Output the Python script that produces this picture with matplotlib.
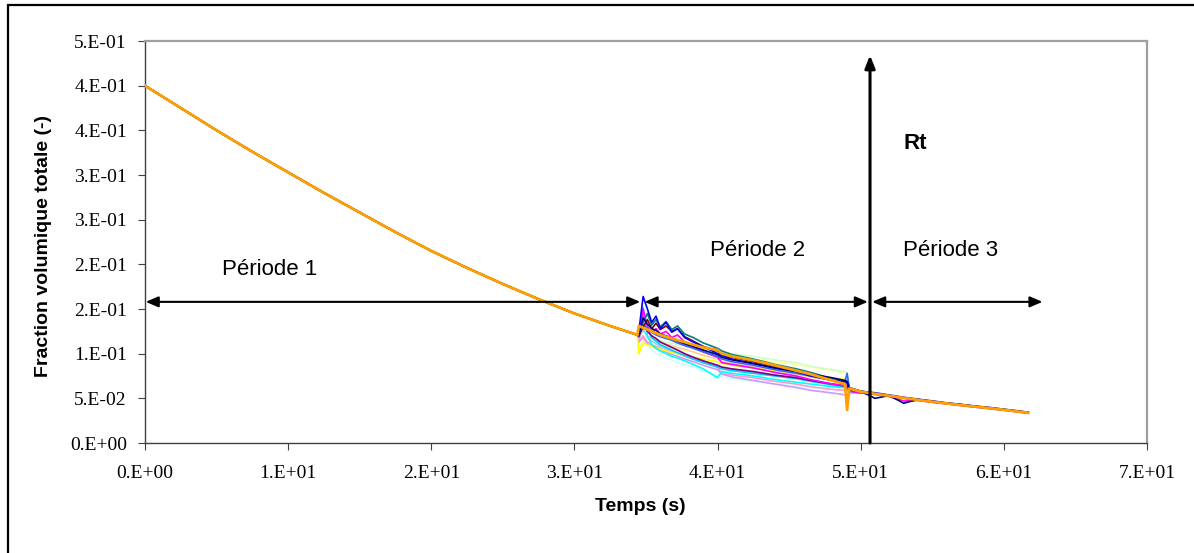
import matplotlib.pyplot as plt
from matplotlib.patches import Rectangle

# temps (s) / fraction volumique - periode 1, commune a toutes les series
t_per1 = [0.0, 2.5, 5.0, 7.5, 10.0, 12.5, 15.0, 17.5, 20.0, 22.5, 25.0, 27.5, 30.0, 32.5, 34.4]
v_per1 = [0.400, 0.375, 0.350, 0.326, 0.303, 0.280, 0.258, 0.236, 0.215, 0.196, 0.178, 0.161, 0.145, 0.131, 0.121]

# periode 2, une liste par serie
t_per2 = [34.5, 34.8, 35.1, 35.4, 35.7, 36.0, 36.4, 36.8, 37.2, 37.7, 38.3, 39.0,
          40.0, 40.3, 41.0, 42.5, 44.0, 45.5, 46.5, 48.0, 48.9, 49.05, 49.2, 50.0]

# periode 3
t_per3 = [51.0, 52.0, 53.0, 54.0, 55.0, 56.0, 57.0, 58.0, 59.0, 60.0, 61.0, 61.7]
v_per3 = [0.0550, 0.0528, 0.0505, 0.0482, 0.0462, 0.0443, 0.0425, 0.0407, 0.0390, 0.0372, 0.0352, 0.0338]
v_per3_navy = [0.0500, 0.0532, 0.0445, 0.0488, 0.0466, 0.0447, 0.0430, 0.0411, 0.0393, 0.0376, 0.0356, 0.0341]
v_per3_blue = [0.0562, 0.0537, 0.0512, 0.0490, 0.0471, 0.0449, 0.0433, 0.0413, 0.0398, 0.0378, 0.0360, 0.0344]
v_per3_magenta = [0.0543, 0.0519, 0.0470, 0.0476, 0.0455, 0.0438, 0.0419, 0.0401, 0.0384, 0.0367, 0.0347, 0.0333]

navy = [0.121, 0.140, 0.133, 0.128, 0.126, 0.122, 0.120, 0.117, 0.114, 0.111, 0.108, 0.104,
        0.099, 0.096, 0.093, 0.089, 0.084, 0.080, 0.077, 0.073, 0.070, 0.069, 0.061, 0.058]
magenta = [0.120, 0.150, 0.130, 0.124, 0.128, 0.122, 0.125, 0.118, 0.121, 0.113, 0.108, 0.102,
           0.096, 0.090, 0.088, 0.084, 0.079, 0.075, 0.071, 0.066, 0.064, 0.063, 0.058, 0.056]
yellow = [0.100, 0.112, 0.110, 0.108, 0.106, 0.105, 0.103, 0.101, 0.100, 0.098, 0.096, 0.094,
          0.091, 0.089, 0.087, 0.084, 0.081, 0.078, 0.076, 0.073, 0.071, 0.070, 0.062, 0.058]
cyan = [0.118, 0.152, 0.120, 0.110, 0.106, 0.103, 0.100, 0.097, 0.095, 0.092, 0.088, 0.083,
        0.073, 0.080, 0.078, 0.075, 0.071, 0.068, 0.066, 0.063, 0.062, 0.062, 0.058, 0.056]
purple = [0.119, 0.132, 0.125, 0.120, 0.117, 0.113, 0.110, 0.107, 0.104, 0.100, 0.096, 0.092,
          0.087, 0.085, 0.083, 0.080, 0.076, 0.073, 0.070, 0.066, 0.064, 0.063, 0.059, 0.057]
darkred = [0.121, 0.130, 0.138, 0.128, 0.134, 0.127, 0.131, 0.125, 0.128, 0.119, 0.114, 0.108,
           0.103, 0.099, 0.096, 0.091, 0.086, 0.081, 0.077, 0.071, 0.068, 0.067, 0.061, 0.0575]
teal = [0.122, 0.135, 0.145, 0.132, 0.138, 0.130, 0.136, 0.127, 0.131, 0.122, 0.118, 0.112,
        0.106, 0.103, 0.099, 0.094, 0.088, 0.083, 0.079, 0.072, 0.069, 0.068, 0.062, 0.058]
blue = [0.125, 0.164, 0.150, 0.135, 0.142, 0.128, 0.135, 0.124, 0.128, 0.118, 0.113, 0.108,
        0.100, 0.098, 0.094, 0.089, 0.084, 0.080, 0.075, 0.070, 0.069, 0.067, 0.060, 0.058]
sky = [0.120, 0.145, 0.128, 0.118, 0.114, 0.110, 0.107, 0.104, 0.101, 0.098, 0.094, 0.090,
       0.085, 0.083, 0.081, 0.078, 0.075, 0.072, 0.069, 0.065, 0.063, 0.063, 0.058, 0.056]
turquoise = [0.112, 0.120, 0.110, 0.104, 0.100, 0.098, 0.095, 0.093, 0.090, 0.088, 0.085, 0.081,
             0.076, 0.074, 0.072, 0.069, 0.066, 0.064, 0.062, 0.060, 0.059, 0.059, 0.057, 0.056]
lightgreen = [0.118, 0.125, 0.120, 0.118, 0.116, 0.115, 0.113, 0.112, 0.110, 0.109, 0.107, 0.105,
              0.105, 0.101, 0.100, 0.097, 0.093, 0.090, 0.086, 0.082, 0.080, 0.079, 0.062, 0.058]
lightyellow = [0.100, 0.115, 0.114, 0.112, 0.111, 0.110, 0.108, 0.107, 0.105, 0.104, 0.102, 0.100,
               0.098, 0.096, 0.095, 0.093, 0.091, 0.088, 0.085, 0.081, 0.079, 0.078, 0.061, 0.058]
paleblue = [0.117, 0.128, 0.118, 0.114, 0.111, 0.108, 0.106, 0.103, 0.101, 0.098, 0.095, 0.091,
            0.086, 0.084, 0.082, 0.079, 0.076, 0.074, 0.070, 0.066, 0.064, 0.076, 0.060, 0.057]
rose = [0.115, 0.120, 0.113, 0.110, 0.108, 0.106, 0.104, 0.102, 0.100, 0.097, 0.094, 0.090,
        0.085, 0.078, 0.076, 0.073, 0.069, 0.066, 0.063, 0.060, 0.059, 0.058, 0.057, 0.056]
lavender = [0.113, 0.118, 0.111, 0.108, 0.106, 0.104, 0.102, 0.099, 0.097, 0.094, 0.091, 0.087,
            0.082, 0.077, 0.074, 0.070, 0.066, 0.062, 0.059, 0.056, 0.054, 0.054, 0.056, 0.056]
tan = [0.118, 0.126, 0.120, 0.117, 0.115, 0.113, 0.111, 0.109, 0.107, 0.105, 0.102, 0.098,
       0.094, 0.091, 0.089, 0.085, 0.081, 0.077, 0.074, 0.070, 0.067, 0.066, 0.060, 0.057]
periwinkle = [0.121, 0.133, 0.127, 0.124, 0.121, 0.119, 0.117, 0.115, 0.112, 0.109, 0.106, 0.102,
              0.097, 0.094, 0.091, 0.087, 0.082, 0.078, 0.075, 0.071, 0.069, 0.078, 0.062, 0.058]
orange = [0.131, 0.129, 0.127, 0.125, 0.123, 0.121, 0.119, 0.117, 0.115, 0.113, 0.110, 0.107,
          0.104, 0.100, 0.097, 0.0925, 0.087, 0.081, 0.077, 0.070, 0.066, 0.037, 0.061, 0.0575]

series = [
    ('#CCFFFF', turquoise, v_per3), ('#FFFF99', lightyellow, v_per3), ('#CCFFCC', lightgreen, v_per3),
    ('#FFCC99', tan, v_per3), ('#CC99FF', lavender, v_per3), ('#FF99CC', rose, v_per3),
    ('#99CCFF', paleblue, v_per3), ('#FFFF00', yellow, v_per3), ('#00FFFF', cyan, v_per3),
    ('#00CCFF', sky, v_per3), ('#800080', purple, v_per3), ('#FF00FF', magenta, v_per3_magenta),
    ('#3366FF', periwinkle, v_per3), ('#800000', darkred, v_per3), ('#008080', teal, v_per3),
    ('#0000FF', blue, v_per3_blue), ('#000080', navy, v_per3_navy),
]

x_ticks = [0, 10, 20, 30, 40, 50, 60, 70]
x_labels = ['0.E+00', '1.E+01', '2.E+01', '3.E+01', '4.E+01', '5.E+01', '6.E+01', '7.E+01']
y_ticks = [0.0, 0.05, 0.10, 0.15, 0.20, 0.25, 0.30, 0.35, 0.40, 0.45]
y_labels = ['0.E+00', '5.E-02', '1.E-01', '2.E-01', '2.E-01', '3.E-01', '3.E-01', '4.E-01', '4.E-01', '5.E-01']

W, H = 1194, 553
fig = plt.figure(figsize=(W / 100, H / 100), dpi=100)
ax = fig.add_axes([145 / W, 1 - 443 / H, (1147 - 145) / W, (443 - 41) / H])

t_all = t_per1 + t_per2 + t_per3
for col, p2, p3 in series:
    ax.plot(t_all, v_per1 + p2 + p3, color=col, lw=1.2, zorder=2)
ax.plot(t_all, v_per1 + orange + v_per3, color='#FFA000', lw=2.0, zorder=3)

ax.set_xlim(0, 70)
ax.set_ylim(0, 0.45)
ax.set_xticks(x_ticks)
ax.set_xticklabels(x_labels)
ax.set_yticks(y_ticks)
ax.set_yticklabels(y_labels)
for lab in ax.get_xticklabels() + ax.get_yticklabels():
    lab.set_family('Liberation Serif')
    lab.set_fontsize(14)
ax.tick_params(axis='x', direction='out', length=5, width=0.8, color='#404040', pad=11)
ax.tick_params(axis='y', direction='out', length=5, width=0.8, color='#404040', pad=8)

for s in ['left', 'bottom']:
    ax.spines[s].set_color('#404040')
    ax.spines[s].set_linewidth(1.0)
for s in ['top', 'right']:
    ax.spines[s].set_color('#A0A0A0')
    ax.spines[s].set_linewidth(1.6)

ax.set_xlabel('Temps (s)', fontsize=14, fontweight='bold', family='Liberation Sans')
ax.xaxis.set_label_coords(0.494, -0.157)
ax.xaxis.label.set_va('center')
ax.set_ylabel('Fraction volumique totale (-)', fontsize=14, fontweight='bold', family='Liberation Sans')
ax.yaxis.set_label_coords(-0.1008, 0.49)
ax.yaxis.label.set_va('center')

# fleches des periodes
hprops = dict(arrowstyle='<|-|>,head_length=0.75,head_width=0.32', color='black', lw=1.5,
              shrinkA=0, shrinkB=0)
ax.annotate('', xy=(34.6, 0.158), xytext=(0.05, 0.158), arrowprops=hprops, zorder=5)
ax.annotate('', xy=(50.5, 0.158), xytext=(34.9, 0.158), arrowprops=hprops, zorder=5)
ax.annotate('', xy=(62.7, 0.158), xytext=(50.8, 0.158), arrowprops=hprops, zorder=5)
ax.annotate('', xy=(50.65, 0.434), xytext=(50.65, 0.0),
            arrowprops=dict(arrowstyle='-|>,head_length=0.75,head_width=0.3', color='black', lw=2.2,
                            shrinkA=0, shrinkB=0), zorder=6)

ax.text(8.7, 0.1937, 'Période 1', fontsize=16, family='Liberation Sans', ha='center', va='center')
ax.text(42.8, 0.216, 'Période 2', fontsize=16, family='Liberation Sans', ha='center', va='center')
ax.text(56.3, 0.216, 'Période 3', fontsize=16, family='Liberation Sans', ha='center', va='center')
ax.text(53.8, 0.335, 'Rt', fontsize=16, fontweight='bold', family='Liberation Sans', ha='center', va='center')

# cadre exterieur
fig.add_artist(Rectangle((8 / W, -0.05), 1.2, 1.05 - 4.5 / H, transform=fig.transFigure,
                         fill=False, ec='black', lw=1.6))

plt.savefig('out.png', dpi=100)
plt.close()
